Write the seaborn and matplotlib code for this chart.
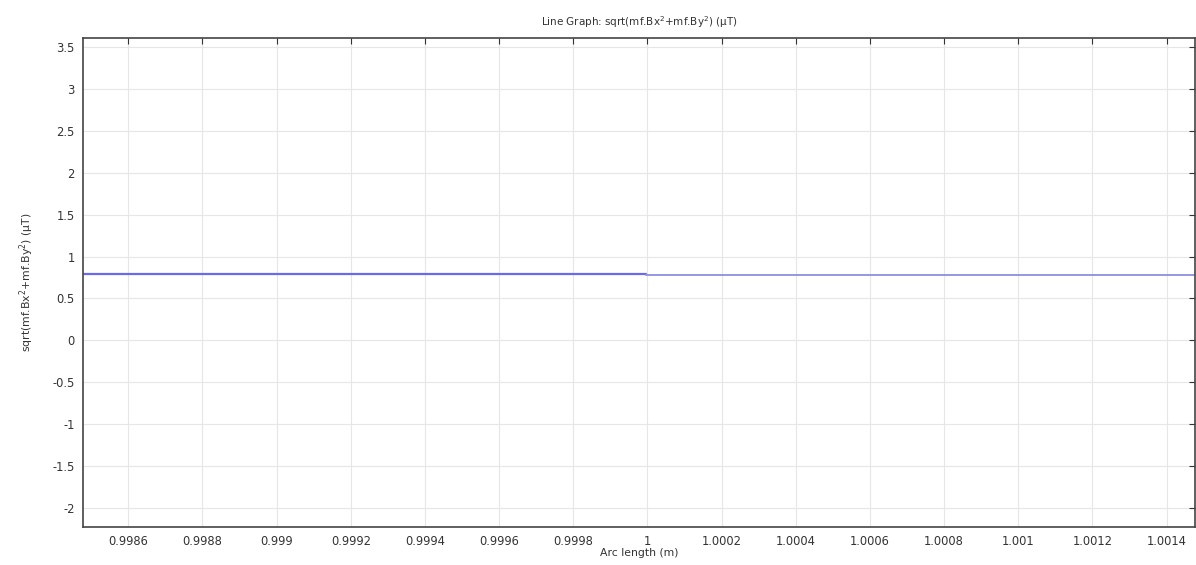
import matplotlib
matplotlib.use('Agg')
import matplotlib.pyplot as plt
import seaborn as sns
import pandas as pd

# arc length (m) and field magnitude (uT)
arc_left = [0.99848, 0.999995]
b_left = [0.795, 0.795]
arc_right = [0.999995, 1.00148]
b_right = [0.782, 0.782]

x_ticks = [0.9986, 0.9988, 0.999, 0.9992, 0.9994, 0.9996, 0.9998, 1.0,
           1.0002, 1.0004, 1.0006, 1.0008, 1.001, 1.0012, 1.0014]
x_labels = ['0.9986', '0.9988', '0.999', '0.9992', '0.9994', '0.9996', '0.9998', '1',
            '1.0002', '1.0004', '1.0006', '1.0008', '1.001', '1.0012', '1.0014']
y_ticks = [-2, -1.5, -1, -0.5, 0, 0.5, 1, 1.5, 2, 2.5, 3, 3.5]
y_labels = ['-2', '-1.5', '-1', '-0.5', '0', '0.5', '1', '1.5', '2', '2.5', '3', '3.5']

sns.set_style('white')
plt.rcParams['font.family'] = ['DejaVu Sans']

fig = plt.figure(figsize=(11.96, 5.65), dpi=100)
ax = fig.add_axes([0.0694, 0.0673, 0.9296, 0.8654])

df_l = pd.DataFrame({'arc': arc_left, 'b': b_left})
df_r = pd.DataFrame({'arc': arc_right, 'b': b_right})
sns.lineplot(data=df_l, x='arc', y='b', ax=ax, color='#6a6af0', linewidth=1.6)
sns.lineplot(data=df_r, x='arc', y='b', ax=ax, color='#8e8ee0', linewidth=1.3)

ax.set_xlim(0.998478, 1.001476)
ax.set_ylim(-2.23, 3.61)
ax.set_xticks(x_ticks)
ax.set_xticklabels(x_labels)
ax.set_yticks(y_ticks)
ax.set_yticklabels(y_labels)
ax.grid(True, color='#e6e6e6', linewidth=0.8)
ax.tick_params(direction='in', length=4, width=0.8, labelsize=8.3, colors='#333333',
               top=True, right=True, pad=6)
for sp in ax.spines.values():
    sp.set_color('#444444')
    sp.set_linewidth(1.2)

ax.set_xlabel('Arc length (m)', fontsize=7.8, color='#333333', labelpad=0)
ax.set_ylabel('sqrt(mf.Bx$^2$+mf.By$^2$) (µT)', fontsize=7.8, color='#333333', labelpad=12)
ax.set_title('Line Graph: sqrt(mf.Bx$^2$+mf.By$^2$) (µT)', fontsize=7.5, color='#333333', pad=9)

fig.savefig('out.png', dpi=100)
